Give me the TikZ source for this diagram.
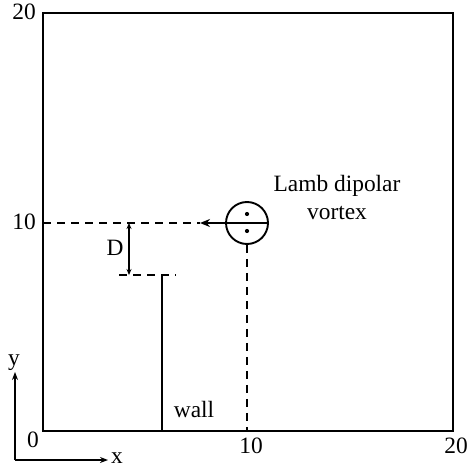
\documentclass[tikz,border=0pt]{standalone}
\usepackage{fontspec}
\setmainfont{Liberation Serif}
\usetikzlibrary{arrows.meta}
\begin{document}
\begin{tikzpicture}[x=1bp,y=-1bp,
  lbl/.style={inner sep=0pt,anchor=base,font=\fontsize{23.5}{28}\selectfont},
  thick line/.style={line width=2.5bp},
  dash line/.style={line width=1.6bp,dash pattern=on 8bp off 6bp},
  axis/.style={line width=1.4bp,-{Stealth[length=8bp,width=6bp]}}]
\useasboundingbox (0,0) rectangle (468,467);
% frame
\draw[thick line] (43,13) rectangle (453,431);
% tick labels
\node[lbl] (t20l) at (24,20) {20};
\node[lbl] (t10l) at (24,230) {10};
\node[lbl] (t0) at (33,447) {0};
\node[lbl] (t10b) at (251,453) {10};
\node[lbl] (t20b) at (456,453) {20};
% axes
\coordinate (o) at (15,460);
\coordinate (yend) at (15,372);
\coordinate (xend) at (108,460);
\draw[axis] (o) -- (yend);
\draw[axis] (o) -- (xend);
\node[lbl] (ylab) at (14,365) {y};
\node[lbl] (xlab) at (117,463) {x};
% vortex
\coordinate (vc) at (247,223);
\node[circle,draw,line width=1.9bp,minimum size=42bp,inner sep=0pt] (vort) at (vc) {};
\fill (247,214) circle (2.1bp);
\fill (247,231) circle (2.1bp);
\coordinate (tip) at (200,223);
\draw[line width=1.7bp,-{Stealth[length=10bp,width=8bp]}] (vort.east) -- (tip);
% dashed guide lines
\coordinate (l10) at (43,223);
\draw[dash line] (l10) -- (tip);
\coordinate (b10) at (247,431);
\draw[dash line] (vort.south) -- (b10);
% wall
\coordinate (wtop) at (162,275);
\coordinate (wbot) at (162,431);
\draw[thick line] (wtop) -- (wbot);
\coordinate (wl) at (119,275);
\coordinate (wr) at (176,275);
\draw[dash line] (wl) -- (wr);
% D
\coordinate (da) at (129,223);
\coordinate (db) at (129,275);
\draw[line width=1.3bp,{Stealth[length=6bp,width=5bp]}-{Stealth[length=6bp,width=5bp]}] (da) -- (db);
\node[lbl] (dlab) at (115,255) {D};
% labels
\node[lbl] (wall) at (194,417) {wall};
\node[lbl] (lamb1) at (337,192) {Lamb dipolar};
\node[lbl] (lamb2) at (337,220) {vortex};
\end{tikzpicture}
\end{document}
